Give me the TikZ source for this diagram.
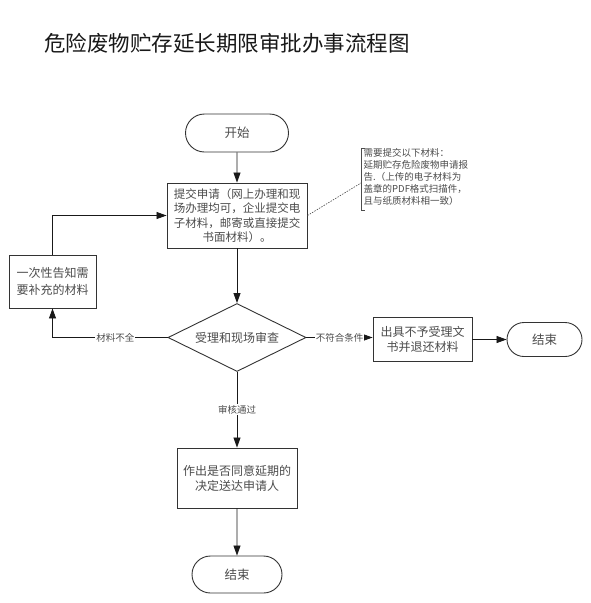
\documentclass[tikz,border=0pt]{standalone}
\usepackage{fontspec}
\setmainfont{Noto Sans CJK SC}
\usetikzlibrary{shapes.geometric,shapes.misc,arrows.meta}
\begin{document}
\begin{tikzpicture}[x=1pt,y=-1pt,
  line/.style={draw=black!90,line width=0.8pt},
  arr/.style={line,-{Triangle[length=10pt,width=7pt]}},
  box/.style={draw=black!80,line width=0.9pt,rectangle,align=center,text=black!70,inner sep=0pt,font=\fontsize{12pt}{15pt}\selectfont},
  term/.style={draw=black!80,line width=0.9pt,rounded rectangle,align=center,text=black!70,inner sep=0pt,font=\fontsize{12.5pt}{15pt}\selectfont},
  dec/.style={draw=black!80,line width=0.9pt,diamond,aspect=2.03,align=center,text=black!70,inner sep=0pt,font=\fontsize{12pt}{15pt}\selectfont},
  lbl/.style={fill=white,inner sep=1pt,text=black!70,font=\fontsize{9.5pt}{11pt}\selectfont}]
\useasboundingbox (0,0) rectangle (590,603);
\fill[white] (0,0) rectangle (590,603);

\node[anchor=west,inner sep=0pt,font=\fontsize{21.5pt}{24pt}\selectfont,text=black!90] (title) at (44,43) {危险废物贮存延长期限审批办事流程图};

\node[term,minimum width=103pt,minimum height=38pt] (start) at (237,133) {开始};
\node[box,minimum width=140pt,minimum height=65pt,font=\fontsize{11.5pt}{14.4pt}\selectfont] (sub) at (237,215.5)
  {提交申请（网上办理和现\\场办理均可，企业提交电\\子材料，邮寄或直接提交\\书面材料）。};
\node[box,minimum width=87pt,minimum height=53pt,font=\fontsize{12pt}{16.5pt}\selectfont] (back) at (52.5,281.5)
  {一次性告知需\\要补充的材料};
\node[dec,minimum width=138pt,minimum height=68pt] (chk) at (237,337.5) {受理和现场审查};
\node[box,minimum width=99pt,minimum height=44pt] (rej) at (422.5,339.5) {出具不予受理文\\书并退还材料};
\node[term,minimum width=75pt,minimum height=34pt] (end1) at (544.5,339.5) {结束};
\node[box,minimum width=120pt,minimum height=60pt] (decide) at (237,478) {作出是否同意延期的\\决定送达申请人};
\node[term,minimum width=90pt,minimum height=37pt] (end2) at (237,574.5) {结束};

% annotation
\node[anchor=west,align=left,inner sep=0pt,text=black!70,font=\fontsize{9.5pt}{11.8pt}\selectfont] (note) at (363.5,177)
  {需要提交以下材料：\\延期贮存危险废物申请报\\告.（上传的电子材料为\\盖章的PDF格式扫描件，\\且与纸质材料相一致）};
\draw[draw=black!70,line width=0.7pt] (365,148) -- (361,148) -- (361,210) -- (365,210);
\coordinate (brk) at (361,183);
\draw[draw=black!70,line width=0.6pt,dash pattern=on 1.5pt off 1.2pt] (sub.east) -- (brk);

% connectors
\draw[arr] (start) -- (sub);
\draw[arr] (sub) -- (chk);
\draw[arr] (chk) -- node[lbl]{审核通过} (decide);
\draw[arr] (decide) -- (end2);
\draw[arr] (chk.east) -- node[lbl]{不符合条件} (rej.west |- chk.east);
\draw[arr] (rej) -- (end1);
\draw[arr] (chk.west) -| node[lbl,pos=0.227]{材料不全} (back.south);
\draw[arr] (back.north) |- (sub.west);
\end{tikzpicture}
\end{document}
